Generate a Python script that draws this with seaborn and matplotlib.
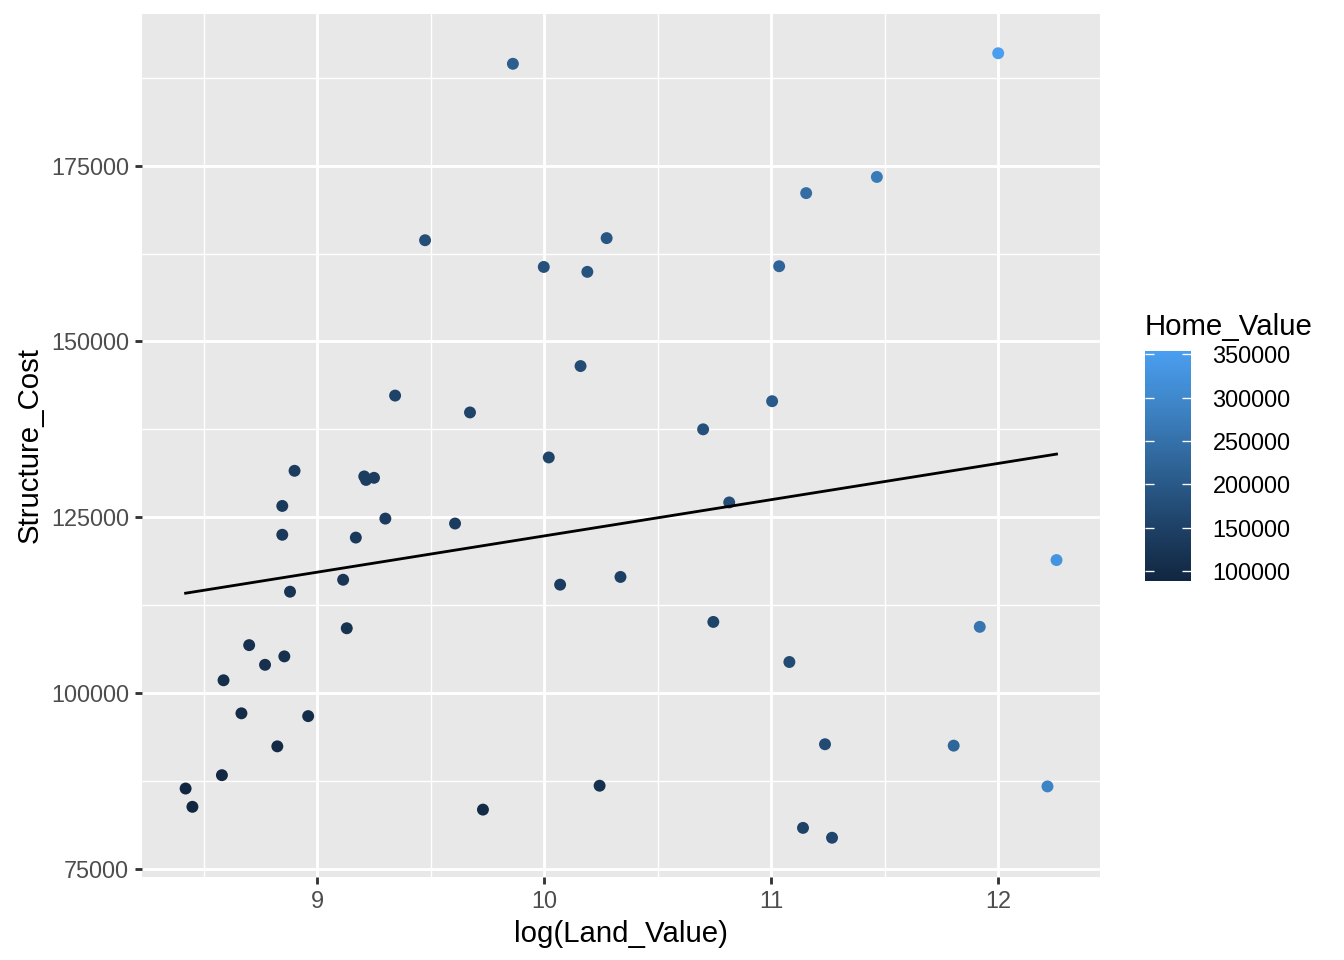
import numpy as np
import pandas as pd
import matplotlib
matplotlib.use('Agg')
import matplotlib.pyplot as plt
import seaborn as sns
from matplotlib.colors import LinearSegmentedColormap, Normalize
from matplotlib.ticker import MultipleLocator, AutoMinorLocator, StrMethodFormatter

# values
land_value = [4537, 4675, 5362, 5324, 5802, 6003, 6438, 6796, 6946, 6946,
              7009, 7187, 7332, 7785, 9082, 9228, 9604, 9967, 10047, 10405,
              10938, 11418, 13030, 14870, 15882, 16815, 19185, 21982, 22471, 23623,
              25848, 26634, 28112, 28997, 30821, 44356, 46396, 49759, 60114, 62006,
              64861, 68874, 69845, 75885, 78273, 95360, 133770, 150060, 162755, 202220,
              210440]
structure_cost = [86400, 83800, 101800, 88300, 97100, 106800, 104000, 92400, 126600, 122500,
                  105200, 114400, 131600, 96700, 116100, 109200, 122100, 130800, 130300, 130600,
                  124800, 142300, 164400, 124100, 139900, 83400, 189500, 160600, 133500, 115400,
                  146500, 159900, 86800, 164700, 116500, 137500, 110100, 127100, 141500, 160700,
                  104400, 80800, 171100, 92700, 79400, 173400, 92500, 109400, 191000, 86700,
                  118900]
home_value = [90950, 88520, 107180, 93590, 102910, 112810, 110400, 99200, 133590, 129450,
              112250, 121560, 138960, 104470, 125170, 118460, 131680, 140740, 140400, 141040,
              135720, 153750, 177470, 138940, 155790, 100230, 208730, 182570, 155960, 138990,
              172320, 186510, 114950, 193730, 147330, 181840, 156490, 176830, 201590, 222740,
              169250, 149720, 240990, 168570, 157700, 268790, 226320, 259440, 353730, 288920,
              329380]
cbar_ticks = [100000, 150000, 200000, 250000, 300000, 350000]

df = pd.DataFrame({'Land_Value': land_value,
                   'Structure_Cost': structure_cost,
                   'Home_Value': home_value})
df['log(Land_Value)'] = np.log(df['Land_Value'])

plt.rcParams['font.family'] = ['Liberation Sans', 'DejaVu Sans']

# ggplot-like dark-to-light blue gradient, as it appears in the reference
cmap = LinearSegmentedColormap.from_list(
    'gg', ['#112640', '#1F4369', '#2E6396', '#3D83C4', '#4A9EF0'])
norm = Normalize(vmin=df['Home_Value'].min(), vmax=df['Home_Value'].max())

fig = plt.figure(figsize=(7, 5), dpi=192)
ax = fig.add_axes([0.1057, 0.0865, 0.8185 - 0.1057, 0.9854 - 0.0865])
ax.set_facecolor('#E8E8E8')

sns.scatterplot(data=df, x='log(Land_Value)', y='Structure_Cost', hue='Home_Value',
                palette=cmap, hue_norm=norm, s=20, linewidth=0, legend=False,
                ax=ax, zorder=3)
sns.regplot(data=df, x='log(Land_Value)', y='Structure_Cost', scatter=False, ci=None,
            color='black', line_kws={'linewidth': 1.05, 'zorder': 4}, ax=ax)

ax.margins(0.05)
ax.xaxis.set_major_locator(MultipleLocator(1))
ax.yaxis.set_major_locator(MultipleLocator(25000))
ax.xaxis.set_minor_locator(AutoMinorLocator(2))
ax.yaxis.set_minor_locator(AutoMinorLocator(2))
ax.yaxis.set_major_formatter(StrMethodFormatter('{x:.0f}'))
ax.grid(which='major', color='white', linewidth=1.07)
ax.grid(which='minor', color='white', linewidth=0.53)
ax.set_axisbelow(True)
for sp in ax.spines.values():
    sp.set_visible(False)
ax.tick_params(which='major', length=2.75, width=1.07, color='#333333',
               labelsize=8.8, labelcolor='#4D4D4D', pad=2.2)
ax.tick_params(which='minor', length=0)
ax.set_xlabel('log(Land_Value)', fontsize=11, color='black', labelpad=2.75)
ax.set_ylabel('Structure_Cost', fontsize=11, color='black', labelpad=2.75)

cax = fig.add_axes([0.852, 0.3948, 0.0342, 0.2396])
sm = plt.cm.ScalarMappable(norm=norm, cmap=cmap)
cbar = fig.colorbar(sm, cax=cax, ticks=cbar_ticks)
cbar.outline.set_visible(False)
cax.tick_params(direction='in', left=True, right=True, length=3.4, width=0.5,
                color='white', labelsize=8.8, labelcolor='black', pad=8)
cax.set_title('Home_Value', loc='left', fontsize=11, pad=6)

fig.savefig('out.png', dpi=192)
